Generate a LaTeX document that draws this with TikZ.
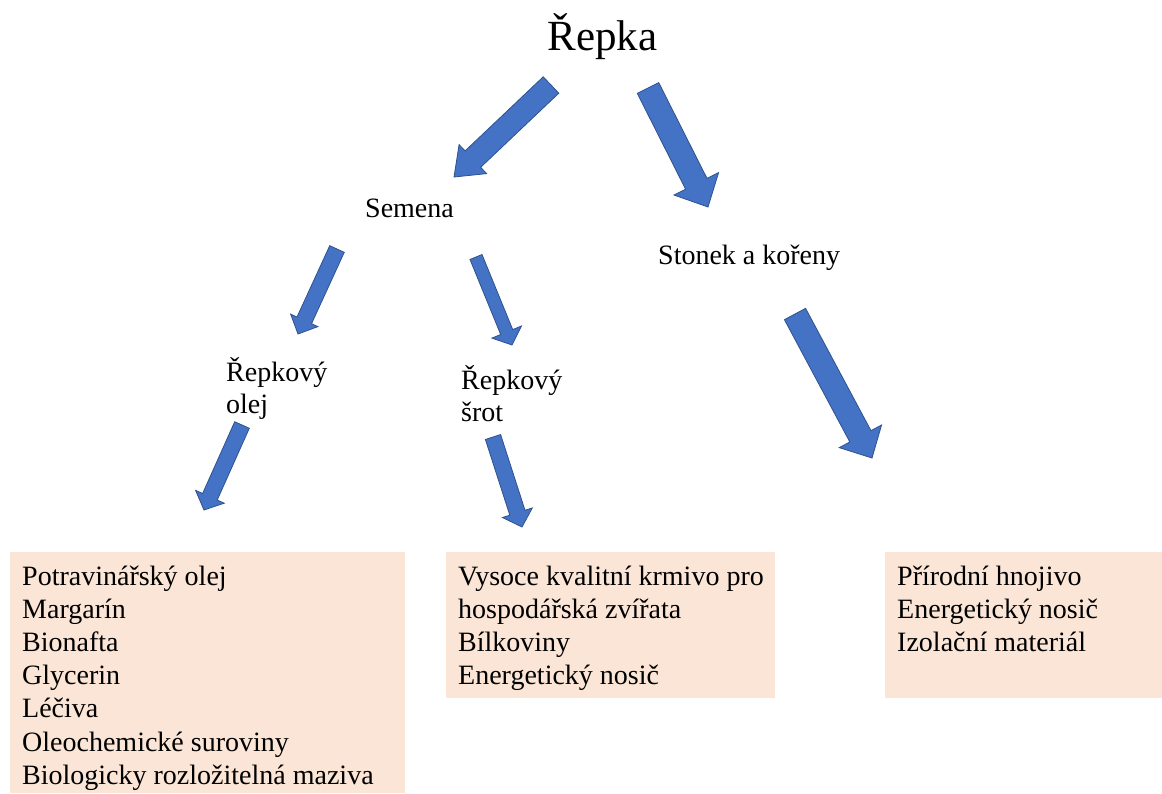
\documentclass[tikz,border=0pt]{standalone}
\usepackage{fontspec}
\setmainfont{Liberation Serif}
\newfontfamily\timesfont{Liberation Serif}
\usetikzlibrary{calc}

\definecolor{arrowblue}{HTML}{4472C4}
\definecolor{arrowedge}{HTML}{2F528F}
\definecolor{boxpeach}{HTML}{FBE5D6}

% block arrow: tail #1, tip #2, half shaft #3, half head #4, head length #5
\newcommand{\blockarrow}[5]{%
  \coordinate (neck) at ($(#2)!#5!(#1)$);
  \filldraw[arrowfill] ($(#1)!#3!90:(#2)$) -- ($(neck)!#3!90:(#2)$) -- ($(neck)!#4!90:(#2)$) -- (#2)
    -- ($(neck)!#4!-90:(#2)$) -- ($(neck)!#3!-90:(#2)$) -- ($(#1)!#3!-90:(#2)$) -- cycle;}

\begin{document}
\begin{tikzpicture}[x=1pt, y=-1pt,
    arrowfill/.style={fill=arrowblue, draw=arrowedge, line width=0.8pt, line join=miter},
    tag/.style={inner sep=0pt, anchor=base west, font=\timesfont\fontsize{28}{32}\selectfont},
    listbox/.style={fill=boxpeach, inner sep=0pt, anchor=north west},
    listtext/.style={inner sep=0pt, anchor=base west, font=\timesfont\fontsize{28}{33.2}\selectfont}]
    \useasboundingbox (0,0) rectangle (1162,793);

    % Labels
    \node[inner sep=0pt, anchor=base, font=\timesfont\fontsize{43}{50}\selectfont] (repka) at (602.5,50) {Řepka};
    \node[tag] (semena) at (365,217) {Semena};
    \node[tag] (stonek) at (658,264) {Stonek a kořeny};
    \node[tag] (olej) at (226,381) {\parbox[t]{130pt}{Řepkový\\olej}};
    \node[tag] (srot) at (461,389) {\parbox[t]{130pt}{Řepkový\\šrot}};

    % Boxes
    \node[listbox, minimum width=395, minimum height=241] (olejbox) at (10,552) {};
    \node[listbox, minimum width=329, minimum height=146] (srotbox) at (446,552) {};
    \node[listbox, minimum width=277, minimum height=146] (stonekbox) at (885,552) {};
    \node[listtext] (olejlist) at (22,585) {\parbox[t]{380pt}{Potravinářský olej\\Margarín\\Bionafta\\Glycerin\\Léčiva\\Oleochemické suroviny\\Biologicky rozložitelná maziva}};
    \node[listtext] (srotlist) at (458,585) {\parbox[t]{315pt}{Vysoce kvalitní krmivo pro\\hospodářská zvířata\\Bílkoviny\\Energetický nosič}};
    \node[listtext] (stoneklist) at (897,585) {\parbox[t]{260pt}{Přírodní hnojivo\\Energetický nosič\\Izolační materiál}};

    % Arrow ends
    \coordinate (semena-t) at (551,85);   \coordinate (semena-h) at (454,177);
    \coordinate (stonek-t) at (648,88);   \coordinate (stonek-h) at (708,207);
    \coordinate (olej-t) at (337,249);    \coordinate (olej-h) at (298,334);
    \coordinate (srot-t) at (476,257);    \coordinate (srot-h) at (512,345);
    \coordinate (olejbox-t) at (242,425); \coordinate (olejbox-h) at (204,510);
    \coordinate (srotbox-t) at (493,437); \coordinate (srotbox-h) at (522,527);
    \coordinate (stonekbox-t) at (795,314); \coordinate (stonekbox-h) at (872,458);

    % Arrows
    \blockarrow{semena-t}{semena-h}{11.3pt}{20pt}{26pt}
    \blockarrow{stonek-t}{stonek-h}{12pt}{25pt}{26pt}
    \blockarrow{olej-t}{olej-h}{8pt}{15pt}{15pt}
    \blockarrow{srot-t}{srot-h}{6.5pt}{16pt}{14pt}
    \blockarrow{olejbox-t}{olejbox-h}{8pt}{15.7pt}{14.5pt}
    \blockarrow{srotbox-t}{srotbox-h}{8pt}{15.7pt}{15pt}
    \blockarrow{stonekbox-t}{stonekbox-h}{12pt}{24pt}{24.6pt}
\end{tikzpicture}
\end{document}
